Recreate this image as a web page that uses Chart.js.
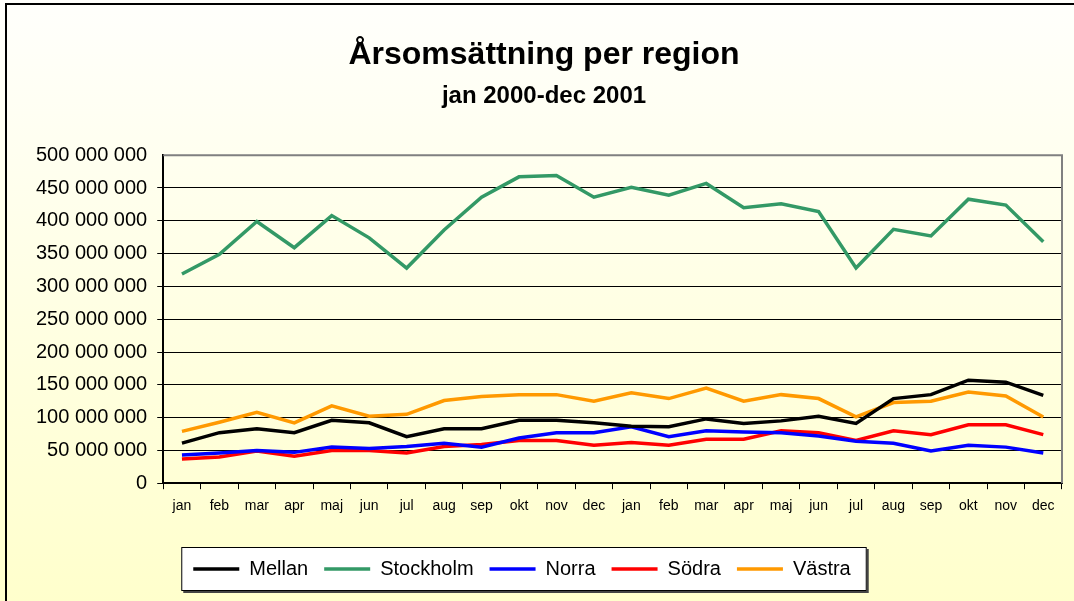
<!DOCTYPE html>
<html>
<head>
<meta charset="utf-8">
<script src="https://cdn.jsdelivr.net/npm/chart.js@4"></script>
<style>
  html, body { margin: 0; padding: 0; }
  body {
    width: 1074px; height: 601px; overflow: hidden;
    background: linear-gradient(#fffffc, #ffffcc);
  }
  #frame {
    position: absolute; left: 5px; top: 3px; right: 0; bottom: 0;
    border-top: 2px solid #000; border-left: 2px solid #000;
  }
  #wrap { position: absolute; left: 0; top: 0; width: 1074px; height: 601px; }
</style>
</head>
<body>
<div id="frame"></div>
<div id="wrap"><canvas id="chart"></canvas></div>
<script>
const months = ['jan', 'feb', 'mar', 'apr', 'maj', 'jun', 'jul', 'aug', 'sep', 'okt', 'nov', 'dec',
                'jan', 'feb', 'mar', 'apr', 'maj', 'jun', 'jul', 'aug', 'sep', 'okt', 'nov', 'dec'];

// omsättning i miljoner kr
const mellan = [61, 77, 83, 77, 96, 92, 71, 83, 83, 96, 96, 92,
                87, 86, 98, 91, 95, 102, 91, 129, 135, 157, 154, 134];
const stockholm = [319, 349, 399, 359, 408, 374, 328, 386, 436, 467, 469, 436,
                   451, 439, 457, 420, 426, 414, 328, 387, 377, 433, 424, 368];
const norra = [43, 46, 50, 47, 55, 53, 56, 61, 55, 69, 77, 77,
               86, 71, 80, 78, 77, 72, 64, 61, 49, 58, 55, 46];
const sodra = [37, 40, 49, 41, 50, 50, 46, 56, 59, 65, 65, 58,
               62, 58, 67, 67, 80, 77, 65, 80, 74, 89, 89, 74];
const vastra = [79, 93, 108, 92, 118, 102, 105, 126, 132, 135, 135, 125,
                138, 129, 145, 125, 135, 129, 101, 123, 125, 139, 133, 101];

const yTicks = [0, 50, 100, 150, 200, 250, 300, 350, 400, 450, 500];

const toKr = arr => arr.map(v => v * 1000000);
const fmt = v => String(v).replace(/\B(?=(\d{3})+(?!\d))/g, ' ');

Chart.defaults.font.family = "'Liberation Sans', Arial, sans-serif";
Chart.defaults.color = '#000';

const makeSet = (label, data, color) => ({
    label,
    data: toKr(data),
    borderColor: color,
    backgroundColor: color,
    borderWidth: 3.5,
    pointRadius: 0,
    tension: 0,
    fill: false,
    pointStyle: 'line',
});

// vit ruta runt förklaringen och grå kant uppe/höger om ritytan
const boxes = {
    id: 'boxes',
    afterLayout(chart) {
        // förklaringen sitter lite till vänster om mitten
        chart.legend.left -= 22;
        chart.legend.right -= 22;
    },
    beforeDraw(chart) {
        const lg = chart.legend;
        const ctx = chart.ctx;
        if (lg && lg.legendHitBoxes.length) {
            const hb = lg.legendHitBoxes;
            const x0 = hb[0].left - 12;
            const last = hb[hb.length - 1];
            const x1 = last.left + last.width + 16;
            const y0 = hb[0].top - 12;
            const y1 = hb[0].top + hb[0].height + 12;
            ctx.save();
            ctx.fillStyle = '#444';
            ctx.fillRect(x0 + 2, y0 + 2, x1 - x0, y1 - y0);
            ctx.fillStyle = '#fff';
            ctx.fillRect(x0, y0, x1 - x0, y1 - y0);
            ctx.strokeStyle = '#000';
            ctx.lineWidth = 1;
            ctx.strokeRect(x0 + 0.5, y0 + 0.5, x1 - x0 - 1, y1 - y0 - 1);
            ctx.restore();
        }
    },
    afterDatasetsDraw(chart) {
        const a = chart.chartArea;
        const ctx = chart.ctx;
        ctx.save();
        ctx.strokeStyle = '#808080';
        ctx.lineWidth = 2;
        ctx.beginPath();
        ctx.moveTo(a.left, a.top);
        ctx.lineTo(a.right, a.top);
        ctx.lineTo(a.right, a.bottom);
        ctx.stroke();
        ctx.restore();
    }
};

new Chart(document.getElementById('chart'), {
    type: 'line',
    data: {
        labels: months,
        datasets: [
            makeSet('Mellan', mellan, '#000000'),
            makeSet('Stockholm', stockholm, '#339966'),
            makeSet('Norra', norra, '#0000ff'),
            makeSet('Södra', sodra, '#ff0000'),
            makeSet('Västra', vastra, '#ff9900'),
        ]
    },
    options: {
        responsive: true,
        maintainAspectRatio: false,
        animation: false,
        layout: { padding: { left: 26, right: 12, top: 0, bottom: 12 } },
        plugins: {
            title: {
                display: true,
                text: 'Årsomsättning per region',
                font: { size: 32, weight: 'bold' },
                padding: { top: 36, bottom: 4 }
            },
            subtitle: {
                display: true,
                text: 'jan 2000-dec 2001',
                font: { size: 24, weight: 'bold' },
                padding: { top: 4, bottom: 44 }
            },
            legend: {
                position: 'bottom',
                labels: {
                    usePointStyle: true,
                    pointStyleWidth: 46,
                    boxHeight: 3,
                    padding: 16,
                    font: { size: 20 }
                }
            },
            tooltip: { enabled: false }
        },
        scales: {
            x: {
                offset: true,
                border: { color: '#000', width: 2 },
                grid: {
                    offset: true,
                    drawOnChartArea: false,
                    color: '#000',
                    tickLength: 6
                },
                ticks: {
                    font: { size: 14 },
                    padding: 9,
                    maxRotation: 0,
                    autoSkip: false
                },
                afterFit(scale) {
                    scale.height += 19;
                }
            },
            y: {
                min: 0,
                max: 500000000,
                border: { color: '#000', width: 2 },
                afterBuildTicks(axis) {
                    axis.ticks = yTicks.map(v => ({ value: v * 1000000 }));
                },
                grid: {
                    color: ctx => ctx.tick && ctx.tick.value === 500000000 ? 'rgba(0,0,0,0)' : '#000',
                    lineWidth: 1,
                    tickLength: 6
                },
                ticks: {
                    font: { size: 20 },
                    padding: 10,
                    callback: v => fmt(v)
                }
            }
        }
    },
    plugins: [boxes]
});
</script>
</body>
</html>
